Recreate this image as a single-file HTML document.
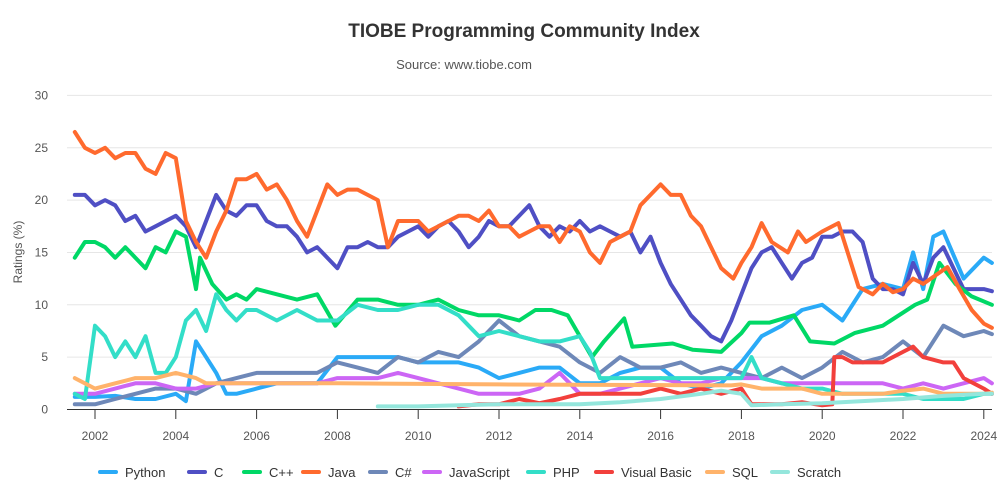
<!DOCTYPE html>
<html><head><meta charset="utf-8">
<style>
body{margin:0;background:#fff;font-family:"Liberation Sans",Arial,sans-serif;}
svg{display:block}
text{font-family:"Liberation Sans",Arial,sans-serif;}
</style></head>
<body>
<svg id="chart" width="1008" height="488">
<text x="524" y="37" text-anchor="middle" font-size="19" font-weight="bold" fill="#333">TIOBE Programming Community Index</text>
<text x="464" y="69" text-anchor="middle" font-size="13" fill="#555">Source: www.tiobe.com</text>
<text transform="translate(22,252) rotate(-90)" text-anchor="middle" font-size="12" fill="#555">Ratings (%)</text>
<g id="grid"></g><g id="series"></g><g id="legend"></g>
</svg>
<script>
const yTicks=[0,5,10,15,20,25,30];
const xTicks=[2002,2004,2006,2008,2010,2012,2014,2016,2018,2020,2022,2024];
const seriesNames=["Python","C","C++","Java","C#","JavaScript","PHP","Visual Basic","SQL","Scratch"];
const seriesColors=["#2aaaf7","#4f4fc4","#00d866","#ff6a2e","#6e88b8","#cc66f5","#33dec8","#f2403c","#ffb36b","#94e6dc"];
const python=[[2001.5,1.2],[2002,1.2],[2002.5,1.3],[2003,1],[2003.5,1],[2004,1.5],[2004.25,0.8],[2004.5,6.5],[2004.75,5],[2005,3.5],[2005.25,1.5],[2005.5,1.5],[2006,2],[2006.5,2.5],[2007,2.5],[2007.5,2.5],[2008,5],[2008.5,5],[2009,5],[2009.5,5],[2010,4.5],[2010.5,4.5],[2011,4.5],[2011.5,4],[2012,3],[2012.5,3.5],[2013,4],[2013.5,4],[2014,2.5],[2014.5,2.5],[2015,3.5],[2015.5,4],[2016,4],[2016.5,2.5],[2017,2],[2017.5,2.5],[2018,4.5],[2018.5,7],[2019,8],[2019.5,9.5],[2020,10],[2020.5,8.5],[2021,11.5],[2021.5,12],[2022,11.5],[2022.25,15],[2022.5,11.5],[2022.75,16.5],[2023,17],[2023.5,12.5],[2024,14.5],[2024.2,14]];
const cLang=[[2001.5,20.5],[2001.75,20.5],[2002,19.5],[2002.25,20],[2002.5,19.5],[2002.75,18],[2003,18.5],[2003.25,17],[2003.5,17.5],[2003.75,18],[2004,18.5],[2004.25,17.5],[2004.5,15.5],[2004.75,18],[2005,20.5],[2005.25,19],[2005.5,18.5],[2005.75,19.5],[2006,19.5],[2006.25,18],[2006.5,17.5],[2006.75,17.5],[2007,16.5],[2007.25,15],[2007.5,15.5],[2007.75,14.5],[2008,13.5],[2008.25,15.5],[2008.5,15.5],[2008.75,16],[2009,15.5],[2009.25,15.5],[2009.5,16.5],[2009.75,17],[2010,17.5],[2010.25,16.5],[2010.5,17.5],[2010.75,18],[2011,17],[2011.25,15.5],[2011.5,16.5],[2011.75,18],[2012,17.5],[2012.25,17.5],[2012.5,18.5],[2012.75,19.5],[2013,17.5],[2013.25,16.5],[2013.5,17.5],[2013.75,17],[2014,18],[2014.25,17],[2014.5,17.5],[2014.75,17],[2015,16.5],[2015.25,17],[2015.5,15],[2015.75,16.5],[2016,14],[2016.25,12],[2016.5,10.5],[2016.75,9],[2017,8],[2017.25,7],[2017.5,6.5],[2017.75,8.5],[2018,11],[2018.25,13.5],[2018.5,15],[2018.75,15.5],[2019,14],[2019.25,12.5],[2019.5,14],[2019.75,14.5],[2020,16.5],[2020.25,16.5],[2020.5,17],[2020.75,17],[2021,16],[2021.25,12.5],[2021.5,11.5],[2021.75,11.5],[2022,11],[2022.25,14],[2022.5,12],[2022.75,14.5],[2023,15.5],[2023.25,13.5],[2023.5,11.5],[2023.75,11.5],[2024,11.5],[2024.2,11.3]];
const cpp=[[2001.5,14.5],[2001.75,16],[2002,16],[2002.25,15.5],[2002.5,14.5],[2002.75,15.5],[2003,14.5],[2003.25,13.5],[2003.5,15.5],[2003.75,15],[2004,17],[2004.25,16.5],[2004.5,11.5],[2004.6,14.5],[2004.9,12],[2005.25,10.5],[2005.5,11],[2005.75,10.5],[2006,11.5],[2006.5,11],[2007,10.5],[2007.5,11],[2007.95,8],[2008.5,10.5],[2009,10.5],[2009.5,10],[2010,10],[2010.5,10.5],[2011,9.5],[2011.5,9],[2012,9],[2012.5,8.5],[2012.9,9.5],[2013.3,9.5],[2013.7,9],[2014.3,5],[2014.6,6.5],[2015.1,8.7],[2015.3,6],[2016.3,6.3],[2016.8,5.7],[2017.5,5.5],[2018,7.3],[2018.2,8.3],[2018.7,8.3],[2019.3,9],[2019.7,6.5],[2020.3,6.3],[2020.8,7.3],[2021.5,8],[2022.3,10],[2022.6,10.5],[2022.9,14],[2023.3,12],[2023.7,10.8],[2024.2,10]];
const java=[[2001.5,26.5],[2001.75,25],[2002,24.5],[2002.25,25],[2002.5,24],[2002.75,24.5],[2003,24.5],[2003.25,23],[2003.5,22.5],[2003.75,24.5],[2004,24],[2004.25,18],[2004.5,16],[2004.75,14.5],[2005,17],[2005.25,19],[2005.5,22],[2005.75,22],[2006,22.5],[2006.25,21],[2006.5,21.5],[2006.75,20],[2007,18],[2007.25,16.5],[2007.5,19],[2007.75,21.5],[2008,20.5],[2008.25,21],[2008.5,21],[2008.75,20.5],[2009,20],[2009.25,15.5],[2009.5,18],[2009.75,18],[2010,18],[2010.25,17],[2010.5,17.5],[2010.75,18],[2011,18.5],[2011.25,18.5],[2011.5,18],[2011.75,19],[2012,17.5],[2012.25,17.5],[2012.5,16.5],[2012.75,17],[2013,17.5],[2013.25,17.5],[2013.5,16],[2013.75,17.5],[2014,17],[2014.25,15],[2014.5,14],[2014.75,16],[2015,16.5],[2015.25,17],[2015.5,19.5],[2015.75,20.5],[2016,21.5],[2016.25,20.5],[2016.5,20.5],[2016.75,18.5],[2017,17.5],[2017.25,15.5],[2017.5,13.5],[2017.8,12.5],[2018,14],[2018.25,15.5],[2018.5,17.8],[2018.75,16],[2019.15,15],[2019.4,17],[2019.6,16],[2020,17],[2020.4,17.8],[2020.9,11.7],[2021.25,11],[2021.5,12],[2021.75,11.2],[2022,11.5],[2022.25,12.5],[2022.5,12],[2023.1,13.6],[2023.4,11.5],[2023.7,9.5],[2024,8.2],[2024.2,7.8]];
const csharp=[[2001.5,0.5],[2002,0.5],[2002.5,1],[2003,1.5],[2003.5,2],[2004,2],[2004.5,1.5],[2005,2.5],[2005.5,3],[2006,3.5],[2006.5,3.5],[2007,3.5],[2007.5,3.5],[2008,4.5],[2008.5,4],[2009,3.5],[2009.5,5],[2010,4.5],[2010.5,5.5],[2011,5],[2011.5,6.5],[2012,8.5],[2012.5,7],[2013,6.5],[2013.5,6],[2014,4.5],[2014.5,3.5],[2015,5],[2015.5,4],[2016,4],[2016.5,4.5],[2017,3.5],[2017.5,4],[2018,3.5],[2018.5,3],[2019,4],[2019.5,3],[2020,4],[2020.5,5.5],[2021,4.5],[2021.5,5],[2022,6.5],[2022.5,5],[2023,8],[2023.5,7],[2024,7.5],[2024.2,7.2]];
const javascript=[[2001.5,1.5],[2002,1.5],[2002.5,2],[2003,2.5],[2003.5,2.5],[2004,2],[2004.5,2],[2005,2.5],[2005.5,2.5],[2006,2.5],[2006.5,2.5],[2007,2.5],[2007.5,2.5],[2008,3],[2008.5,3],[2009,3],[2009.5,3.5],[2010,3],[2010.5,2.5],[2011,2],[2011.5,1.5],[2012,1.5],[2012.5,1.5],[2013,2],[2013.5,3.5],[2014,1.5],[2014.5,1.5],[2015,2],[2015.5,2.5],[2016,3],[2016.5,2.5],[2017,2.5],[2017.5,3],[2018,3],[2018.5,3],[2019,2.5],[2019.5,2.5],[2020,2.5],[2020.5,2.5],[2021,2.5],[2021.5,2.5],[2022,2],[2022.5,2.5],[2023,2],[2023.5,2.5],[2024,3],[2024.2,2.5]];
const php=[[2001.5,1.5],[2001.75,1],[2002,8],[2002.25,7],[2002.5,5],[2002.75,6.5],[2003,5],[2003.25,7],[2003.5,3.5],[2003.75,3.5],[2004,5],[2004.25,8.5],[2004.5,9.5],[2004.75,7.5],[2005,11],[2005.25,9.5],[2005.5,8.5],[2005.75,9.5],[2006,9.5],[2006.5,8.5],[2007,9.5],[2007.5,8.5],[2008,8.5],[2008.5,10],[2009,9.5],[2009.5,9.5],[2010,10],[2010.5,10],[2011,9],[2011.5,7],[2012,7.5],[2012.5,7],[2013,6.5],[2013.5,6.5],[2014,7],[2014.25,5.5],[2014.5,3],[2015,3],[2015.5,3],[2016,3],[2016.5,3],[2017,3],[2017.5,3],[2018,3],[2018.25,5],[2018.5,3],[2019,2.5],[2019.5,2],[2020,2],[2020.5,1.5],[2021,1.5],[2021.5,1.5],[2022,1.5],[2022.5,1],[2023,1],[2023.5,1],[2024,1.5],[2024.2,1.5]];
const visualBasic=[[2011,0.3],[2011.5,0.5],[2012,0.5],[2012.5,1],[2013,0.6],[2013.5,1],[2014,1.5],[2014.5,1.5],[2015,1.5],[2015.5,1.5],[2016,2],[2016.5,1.5],[2017,2],[2017.5,1.5],[2018,2],[2018.25,0.5],[2018.5,0.5],[2019,0.5],[2019.5,0.7],[2020,0.4],[2020.25,0.5],[2020.3,5],[2020.5,5],[2020.75,4.5],[2021,4.5],[2021.5,4.5],[2022,5.5],[2022.25,6],[2022.5,5],[2023,4.5],[2023.25,4.5],[2023.5,3],[2024,2],[2024.2,1.5]];
const sql=[[2001.5,3],[2002,2],[2002.5,2.5],[2003,3],[2003.5,3],[2004,3.5],[2004.5,3],[2004.75,2.5],[2008,2.5],[2012,2.4],[2017.75,2.3],[2018,2.4],[2018.5,2],[2019,2],[2019.5,2],[2020,1.5],[2020.5,1.5],[2021,1.5],[2021.5,1.5],[2022,1.8],[2022.5,2],[2023,1.5],[2023.5,1.5],[2024,1.5],[2024.2,1.6]];
const scratch=[[2009,0.3],[2010,0.3],[2011,0.4],[2012,0.5],[2013,0.5],[2014,0.5],[2015,0.7],[2016,1],[2017,1.5],[2017.5,1.8],[2018,1.5],[2018.25,0.4],[2019,0.5],[2020,0.6],[2021,0.8],[2022,1],[2023,1.3],[2024,1.5],[2024.2,1.5]];
const allSeries=[python,cLang,cpp,java,csharp,javascript,php,visualBasic,sql,scratch];

const NS="http://www.w3.org/2000/svg";
const X0=67,X1=992;
function xScale(yr){return 95+(yr-2002)*40.4;}
function yScale(v){return 409.5-v*10.47;}
function mk(tag,attrs,parent){const e=document.createElementNS(NS,tag);for(const k in attrs)e.setAttribute(k,attrs[k]);parent.appendChild(e);return e;}
const grid=document.getElementById('grid');
yTicks.forEach(t=>{
  const y=yScale(t);
  if(t>0){const l=mk('line',{x1:X0,x2:X1,y1:y,y2:y,stroke:'#e6e6e6','stroke-width':1},grid);
  
  }
  const tx=mk('text',{x:48,y:y+4,'text-anchor':'end','font-size':12,fill:'#555'},grid);
  tx.textContent=t;
  
  
});
const ax=mk('line',{x1:X0,x2:X1,y1:409.5,y2:409.5,stroke:'#333','stroke-width':1},grid);


xTicks.forEach(t=>{
  const x=xScale(t);
  const tk=mk('line',{x1:x,x2:x,y1:409.5,y2:419,stroke:'#333','stroke-width':1},grid);
  
  
  const tx=mk('text',{x:x,y:440,'text-anchor':'middle','font-size':12,fill:'#555'},grid);
  tx.textContent=t;
  
  
});
const sg=document.getElementById('series');
allSeries.forEach((s,i)=>{
  const d=s.map((p,j)=>(j?'L':'M')+xScale(p[0]).toFixed(1)+','+yScale(p[1]).toFixed(1)).join('');
  const path=mk('path',{d:d,fill:'none',stroke:seriesColors[i],'stroke-width':4,'stroke-linejoin':'round','stroke-linecap':'round'},sg);
  
  
});
const legendX=[100,189,244,303,370,424,528,596,707,772];
const lg=document.getElementById('legend');
seriesNames.forEach((n,i)=>{
  const g=mk('g',{},lg);
  
  
  mk('line',{x1:legendX[i],x2:legendX[i]+16,y1:472,y2:472,stroke:seriesColors[i],'stroke-width':4,'stroke-linecap':'round'},g);
  const t=mk('text',{x:legendX[i]+25,y:477,'font-size':13,fill:'#333'},g);
  t.textContent=n;
});
</script>
</body></html>
